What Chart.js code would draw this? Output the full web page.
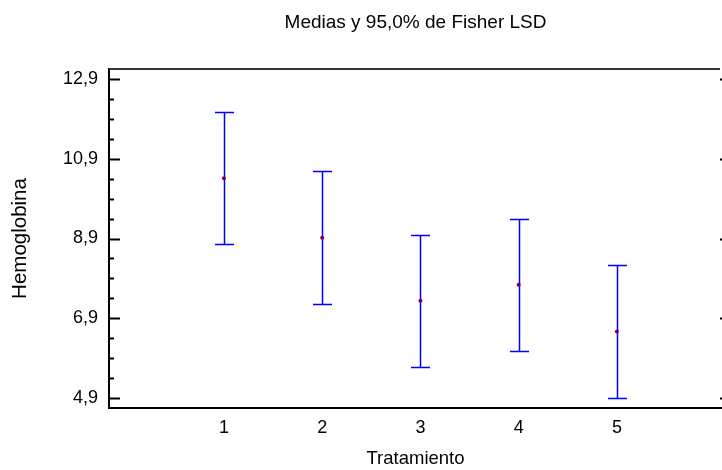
<!DOCTYPE html>
<html>
<head>
<meta charset="utf-8">
<script src="https://cdn.jsdelivr.net/npm/chart.js@4.4.1/dist/chart.umd.min.js"></script>
<style>
body { margin: 0; background: #fff; }
canvas { display: block; }
</style>
</head>
<body>
<canvas id="myChart" width="722" height="470"></canvas>
<script>
// data
const categories = [1, 2, 3, 4, 5];
const means = [10.41, 8.92, 7.34, 7.74, 6.57];
const lower = [8.75, 7.26, 5.68, 6.08, 4.91];
const upper = [12.07, 10.58, 9.00, 9.40, 8.23];
const yTicks = [4.9, 6.9, 8.9, 10.9, 12.9];
const yTickLabels = ['4,9', '6,9', '8,9', '10,9', '12,9'];
const xTickLabels = ['1', '2', '3', '4', '5'];

const font = "'Liberation Sans', Arial, sans-serif";

// error bars + inward ticks + top frame
const lsdPlugin = {
    id: 'lsd',
    beforeDatasetsDraw(chart) {
        let ctx = chart.ctx;
        let x = chart.scales.x, y = chart.scales.y;
        ctx.save();
        ctx.strokeStyle = '#0000ff';
        ctx.lineWidth = 1.5;
        for (let i = 0; i < categories.length; i++) {
            let px = Math.round(x.getPixelForValue(categories[i])) + 0.5;
            let top = Math.round(y.getPixelForValue(upper[i])) + 0.5;
            let bot = Math.round(y.getPixelForValue(lower[i])) + 0.5;
            ctx.beginPath();
            ctx.moveTo(px, top);
            ctx.lineTo(px, bot);
            ctx.moveTo(px - 9.5, top);
            ctx.lineTo(px + 9.5, top);
            ctx.moveTo(px - 9.5, bot);
            ctx.lineTo(px + 9.5, bot);
            ctx.stroke();
        }
        ctx.restore();
    },
    afterDraw(chart) {
        let ctx = chart.ctx;
        let a = chart.chartArea;
        let y = chart.scales.y;
        ctx.save();
        ctx.strokeStyle = '#000';
        ctx.lineWidth = 2;
        for (let v = yTicks[0]; v <= yTicks[yTicks.length - 1] + 0.01; v += 0.5) {
            let py = Math.round(y.getPixelForValue(v)) + 0.5;
            let major = yTicks.some(t => Math.abs(t - v) < 0.01);
            ctx.beginPath();
            ctx.moveTo(a.left, py);
            ctx.lineTo(a.left + (major ? 11 : 5), py);
            ctx.stroke();
            if (major) {
                ctx.beginPath();
                ctx.moveTo(a.right - 2, py);
                ctx.lineTo(a.right, py);
                ctx.stroke();
            }
        }
        ctx.strokeStyle = '#333';
        ctx.beginPath();
        ctx.moveTo(a.left, a.top);
        ctx.lineTo(a.right - 2, a.top);
        ctx.stroke();
        ctx.restore();
    }
};

let ctx = document.getElementById('myChart');
let myChart = new Chart(ctx, {
    type: 'scatter',
    data: {
        datasets: [{
            label: 'Medias',
            data: categories.map((c, i) => ({ x: c, y: means[i] })),
            pointRadius: 2,
            pointBackgroundColor: '#800040',
            pointBorderColor: '#800040',
            pointBorderWidth: 0
        }]
    },
    options: {
        responsive: false,
        animation: false,
        layout: { padding: 0, autoPadding: false },
        plugins: {
            legend: { display: false },
            tooltip: { enabled: false },
            title: {
                display: true,
                fullSize: false,
                text: 'Medias y 95,0% de Fisher LSD',
                color: '#000',
                font: { family: font, size: 19, weight: 'normal' },
                padding: { top: 11, bottom: 35.2 }
            }
        },
        scales: {
            x: {
                type: 'linear',
                min: -0.17,
                max: 6.07,
                afterBuildTicks: function(scale) {
                    scale.ticks = categories.map(c => ({ value: c }));
                },
                afterFit: function(scale) { scale.height = 62; },
                grid: { display: false, drawTicks: false },
                border: { display: true, color: '#000', width: 2 },
                ticks: {
                    padding: 9,
                    color: '#000',
                    font: { family: font, size: 18 },
                    callback: function(v, i) { return xTickLabels[i]; }
                },
                title: {
                    display: true,
                    text: 'Tratamiento',
                    color: '#000',
                    font: { family: font, size: 18.5 },
                    padding: { top: 0, bottom: 0 }
                }
            },
            y: {
                min: 4.65,
                max: 13.15,
                afterBuildTicks: function(scale) {
                    scale.ticks = yTicks.map(v => ({ value: v }));
                },
                afterFit: function(scale) { scale.width = 109; },
                grid: { display: false, drawTicks: false },
                border: { display: true, color: '#000', width: 2 },
                ticks: {
                    padding: 11,
                    color: '#000',
                    font: { family: font, size: 18 },
                    callback: function(v, i) { return yTickLabels[i]; }
                },
                title: {
                    display: true,
                    text: 'Hemoglobina',
                    color: '#000',
                    font: { family: font, size: 20.5 },
                    padding: { top: 8, bottom: 0 }
                }
            }
        }
    },
    plugins: [lsdPlugin]
});
</script>
</body>
</html>
